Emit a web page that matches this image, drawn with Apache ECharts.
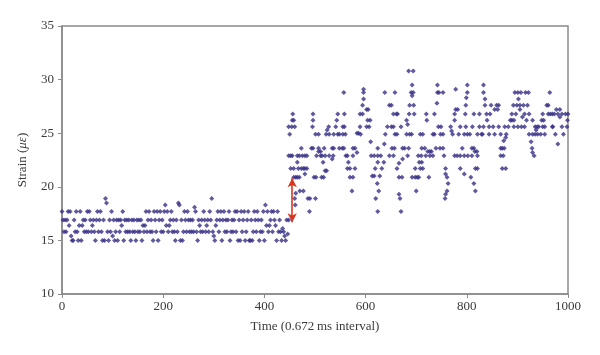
<!DOCTYPE html>
<html>
<head>
<meta charset="utf-8">
<script src="https://cdn.jsdelivr.net/npm/echarts@6/dist/echarts.min.js"></script>
<style>html,body{margin:0;padding:0;background:#fff}#c{width:600px;height:355px}</style>
</head>
<body>
<div id="c"></div>
<script>
// Time axis and strain axis ticks
const xTicks = [0, 200, 400, 600, 800, 1000];
const yTicks = [10, 15, 20, 25, 30, 35];

// Before load: strain sampled every 2 time steps starting at 0
const beforeStart = 0;
const beforeStep = 2;
const beforeStrain = [
17.7,16.9,15.8,16.9,15.8,16.9,17.7,16.4,17.7,15.4,15.0,15.0,16.9,15.8,17.7,15.8,15.0,16.4,17.7,15.0,
16.4,16.9,15.8,16.9,15.8,17.7,15.8,17.7,16.9,15.8,16.4,16.9,15.8,15.0,16.9,17.7,15.8,16.9,17.7,15.8,
15.0,16.9,15.0,18.9,18.5,15.8,15.0,16.9,15.8,17.7,15.4,16.9,15.0,15.8,16.9,15.0,16.9,15.8,16.9,16.4,
17.7,15.0,16.9,15.8,16.9,15.8,16.9,15.8,15.0,16.9,15.8,16.9,15.8,15.0,16.9,15.8,16.9,15.8,16.9,15.0,
16.4,15.8,16.4,17.7,15.8,16.9,17.7,15.8,16.9,15.8,15.0,17.7,16.9,15.8,17.7,15.0,16.9,17.7,15.8,16.9,
15.8,17.7,18.3,16.4,17.7,15.8,16.4,16.9,17.7,15.8,16.9,15.8,15.0,16.9,15.8,18.5,18.3,15.0,16.9,15.0,
15.8,17.7,16.9,15.8,17.7,16.9,15.8,16.9,15.8,16.9,15.8,18.1,17.7,15.8,15.0,16.9,16.4,15.8,16.9,15.8,
17.7,16.9,15.8,16.4,16.9,15.8,17.7,16.9,18.9,15.8,15.4,15.0,16.4,16.9,17.7,15.8,16.9,17.7,15.0,16.9,
17.7,15.8,16.9,15.8,16.9,17.7,15.0,15.8,16.9,15.8,16.9,17.7,15.8,17.7,15.0,16.9,15.0,17.7,15.8,16.9,
17.7,15.0,15.8,16.9,17.7,15.0,15.0,16.9,15.0,15.8,17.7,16.9,15.8,17.7,16.9,15.0,15.8,16.9,15.8,17.7,
15.0,18.3,16.4,17.7,15.8,16.4,16.9,17.7,15.8,17.7,16.9,16.4,15.0,17.7,15.8,16.9,15.8,15.0,16.1,15.8,
15.4,15.0,16.9,15.6,16.9
];

// After load: [time index, strain]
const afterPoints = [
[448,25.6],[450,24.9],[448,22.9],[452,22.9],[452,21.7],[456,26.8],[455,26.2],[458,26.2],[454,25.6],[460,25.6],[455,22.9],[458,21.7],[458,20.9],[462,20.9],[460,18.9],[461,18.3],[462,19.4],
[465,22.9],[469,22.9],[467,21.7],[473,21.7],[477,21.7],[465,20.9],[469,20.9],[473,23.6],[465,22.3],[470,19.6],[477,19.6],[489,17.7],[486,18.9],[490,18.9],[501,18.9],
[475,22.9],[480,22.9],[484,22.9],[480,21.7],[484,21.7],[480,21.2],[493,23.6],[496,23.6],[507,23.6],[496,26.8],[496,26.2],[495,25.6],[501,24.9],[507,24.9],[498,20.9],[502,20.9],[503,22.9],[511,22.9],[507,23.3],[511,23.3],
[527,25.6],[524,25.3],[522,24.9],[528,24.9],[537,24.9],[518,23.6],[534,23.6],[537,23.6],[514,22.9],[520,22.9],[528,22.9],[536,22.9],[516,22.3],[520,21.5],[523,21.5],[513,20.9],[517,20.9],[534,22.6],
[545,26.8],[558,26.8],[543,26.2],[541,25.6],[555,25.6],[558,25.6],[545,24.9],[548,24.9],[555,24.9],[560,24.9],[548,23.6],[554,23.6],[557,23.6],[557,28.8],[561,22.9],
[564,22.9],[575,22.9],[566,22.3],[564,21.7],[569,21.7],[579,21.7],[569,20.9],[575,20.9],[573,19.6],[575,23.6],[579,23.6],[583,23.2],[583,25.0],[586,25.0],[589,25.6],
[589,26.8],[594,26.8],[594,27.6],[596,28.2],[596,28.8],[596,29.1],[602,27.2],[605,27.2],[604,26.2],[609,26.2],[602,25.6],[607,25.6],[590,24.9],[610,24.2],
[611,22.9],[617,22.9],[624,22.9],[630,22.9],[613,21.0],[617,21.0],[628,21.0],[623,20.3],[626,19.6],[620,18.9],[624,17.7],[619,21.7],[632,21.7],[624,22.3],[636,22.3],[624,23.6],[637,24.0],[639,24.9],[638,28.8],[643,25.6],[651,25.6],[655,25.6],[647,27.6],[651,27.6],[655,26.8],
[658,24.9],[662,24.9],[652,23.6],[657,23.6],[647,22.9],[655,22.9],[666,22.2],[662,21.7],[666,20.9],[672,20.9],[666,19.3],[668,18.9],[670,17.7],[658,28.8],[661,26.8],[663,26.8],[670,25.6],[673,22.6],
[673,23.6],[677,23.6],[681,24.9],[687,24.9],[681,26.2],[683,25.8],[685,30.8],[694,30.8],[692,29.5],[690,28.8],[694,28.8],[692,28.5],[687,27.6],[695,27.6],[686,26.8],[696,26.8],[691,24.9],[685,23.6],[683,22.9],[692,20.9],[698,20.9],[700,19.6],[698,21.7],
[704,22.9],[710,22.9],[719,22.9],[706,22.3],[711,22.3],[708,21.7],[713,21.7],[702,20.9],[705,20.9],[711,23.6],[717,23.6],[708,24.9],[713,24.9],[720,26.8],[721,26.2],[723,23.3],[727,23.3],[730,23.3],[727,22.9],[733,22.9],[725,20.9],
[733,24.9],[736,24.9],[736,26.8],[742,28.8],[745,28.8],[753,28.8],[742,29.5],[741,27.8],[744,25.6],[749,25.6],[739,23.6],[747,23.6],[753,23.6],[755,22.9],[748,24.9],[753,24.9],[758,21.7],[758,21.2],[761,20.9],[763,20.3],[761,19.6],[757,18.9],[758,19.3],
[768,25.6],[770,25.2],[772,24.9],[776,26.8],[778,27.2],[782,27.2],[778,29.1],[776,26.2],[776,22.9],[781,22.9],[787,25.6],[784,24.9],
[787,21.7],[795,21.2],[787,22.9],[795,22.9],[802,22.9],[810,22.9],[821,22.9],[791,23.6],[810,23.6],[814,23.6],[795,24.9],[801,24.9],[806,24.9],[798,25.6],[811,25.6],[797,26.8],[798,27.6],[799,28.3],[801,28.8],[801,29.5],[808,20.9],[814,20.3],[817,19.6],[817,21.7],[821,21.7],[816,23.3],[820,23.3],[814,26.8],
[821,24.9],[829,24.9],[831,24.9],[825,25.6],[833,25.6],[825,26.8],[833,29.5],[833,28.8],[836,28.2],[836,27.6],[839,26.8],[846,26.8],[840,26.2],[844,25.6],[844,24.9],
[848,27.6],[859,27.6],[863,27.6],[855,27.2],[861,27.2],[852,25.6],[863,25.6],[855,24.9],[867,24.9],[867,23.6],[870,23.6],[874,23.6],[867,22.9],[872,22.9],[870,21.7],[877,21.7],[873,24.3],[877,24.6],[878,24.9],[875,25.6],
[882,25.6],[886,26.2],[889,26.2],[893,26.2],[889,26.8],[897,26.8],[892,27.6],[899,27.6],[905,27.6],[902,28.2],[895,28.8],[901,28.8],[907,28.8],[905,27.2],[893,25.6],[901,25.6],[908,25.6],[910,26.5],
[916,28.8],[922,28.8],[912,27.6],[920,27.6],[914,26.8],[923,26.8],[918,26.2],[930,26.2],[914,25.6],[935,25.6],[923,24.9],[930,24.9],[935,24.9],[927,24.2],[929,23.6],[930,23.2],[933,22.9],[937,25.3],
[939,25.6],[942,25.6],[950,25.6],[954,25.6],[940,24.9],[946,24.9],[954,24.9],[948,26.2],[952,26.2],[950,26.8],[961,26.8],[958,27.6],[961,27.6],[964,28.8],[969,25.6],[965,26.8],[969,26.8],
[973,26.8],[980,26.8],[988,26.8],[995,26.8],[1000,26.8],[977,27.2],[984,27.2],[970,25.6],[988,25.6],[998,25.6],[975,24.9],[991,24.9],[980,24.0],[984,26.5],[999,26.2]
];

// Arrow marking the strain jump: [time, strain from], [time, strain to]
const jumpFrom = [455, 20.8];
const jumpTo = [455, 16.7];

const beforePoints = beforeStrain.map((v, i) => [beforeStart + beforeStep * i, v]);
const allPoints = beforePoints.concat(afterPoints);

const FONT = '"Liberation Serif", "DejaVu Serif", serif';
const AXIS_COLOR = '#8a8a8a';
const DOT = '#372f86';

const chart = echarts.init(document.getElementById('c'));
chart.setOption({
  animation: false,
  backgroundColor: '#ffffff',
  grid: {
    left: 62, right: 32, top: 26, bottom: 61,
    show: true, borderColor: AXIS_COLOR, borderWidth: 1.5, backgroundColor: 'transparent'
  },
  xAxis: {
    type: 'value', min: xTicks[0], max: xTicks[xTicks.length - 1], interval: 200,
    name: 'Time (0.672\u2009ms interval)', nameLocation: 'middle', nameGap: 26,
    nameTextStyle: { fontFamily: FONT, fontSize: 13, color: '#3a3a3a' },
    axisLine: { lineStyle: { color: AXIS_COLOR, width: 1.5 } },
    axisTick: { show: true, inside: false, length: 4, lineStyle: { color: AXIS_COLOR } },
    axisLabel: { fontFamily: FONT, fontSize: 13, color: '#3a3a3a', margin: 6,
      formatter: v => String(v) },
    splitLine: { show: false }
  },
  yAxis: {
    type: 'value', min: yTicks[0], max: yTicks[yTicks.length - 1], interval: 5,
    name: 'Strain ({i|\u03bc\u03b5})', nameLocation: 'middle', nameGap: 33, nameRotate: 90,
    nameTextStyle: { fontFamily: FONT, fontSize: 13, color: '#3a3a3a',
      rich: { i: { fontFamily: FONT, fontSize: 13, fontStyle: 'italic', color: '#3a3a3a' } } },
    axisLine: { show: true, lineStyle: { color: AXIS_COLOR, width: 1.5 } },
    axisTick: { show: true, inside: false, length: 4, lineStyle: { color: AXIS_COLOR } },
    axisLabel: { fontFamily: FONT, fontSize: 13, color: '#3a3a3a', margin: 8,
      formatter: v => String(v) },
    splitLine: { show: false }
  },
  series: [{
    type: 'scatter',
    data: allPoints,
    symbol: 'diamond',
    symbolSize: 5,
    itemStyle: { color: DOT },
    markLine: {
      silent: true,
      symbol: ['arrow', 'arrow'],
      symbolSize: [7, 9],
      label: { show: false },
      lineStyle: { color: '#d9361f', width: 1.6, type: 'solid' },
      data: [[{ coord: jumpFrom }, { coord: jumpTo }]]
    }
  }]
});
</script>
</body>
</html>
